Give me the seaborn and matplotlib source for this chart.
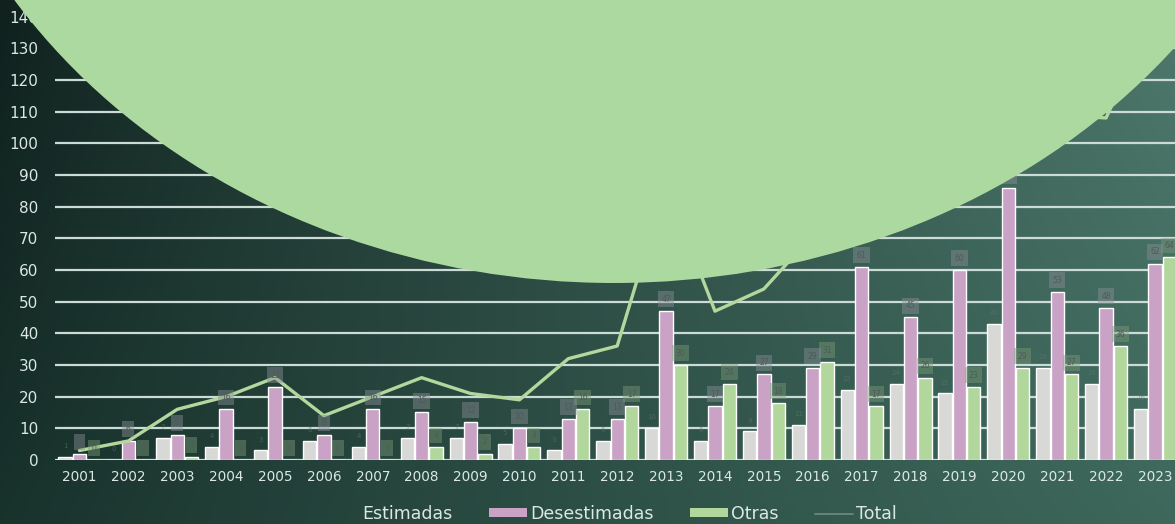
import numpy as np
import pandas as pd
import matplotlib
matplotlib.use("Agg")
import matplotlib.pyplot as plt
from matplotlib.patches import Ellipse, Patch
from matplotlib.lines import Line2D
import seaborn as sns

# --- data -------------------------------------------------------------
years = [str(y) for y in range(2001, 2024)]
estimadas = [1, 0, 7, 4, 3, 6, 4, 7, 7, 5, 3, 6, 10, 6, 9, 11, 22, 24, 21, 43, 29, 24, 16]
desestimadas = [2, 6, 8, 16, 23, 8, 16, 15, 12, 10, 13, 13, 47, 17, 27, 29, 61, 45, 60, 86, 53, 48, 62]
otras = [0, 0, 1, 0, 0, 0, 0, 4, 2, 4, 16, 17, 30, 24, 18, 31, 17, 26, 23, 29, 27, 36, 64]
series_names = ["Estimadas", "Desestimadas", "Otras"]
y_ticks = list(range(0, 150, 10))

total = [e + d + o for e, d, o in zip(estimadas, desestimadas, otras)]

df = pd.DataFrame({
    "Año": years * 3,
    "Serie": [series_names[0]] * len(years) + [series_names[1]] * len(years) + [series_names[2]] * len(years),
    "Valor": estimadas + desestimadas + otras,
})

# --- style ------------------------------------------------------------
sns.set_theme(style="white")
plt.rcParams["font.family"] = ["DejaVu Sans"]

col_est = "#d8d8d6"
col_des = "#c9a2c5"
col_otr = "#b2d79d"
col_line = "#b3d79c"
col_text = "#dbe8e3"
col_grid = "#cbdcd7"
col_circle = "#acd9a0"

W, H = 1175, 524
fig = plt.figure(figsize=(W / 100, H / 100), dpi=100)

# background gradient
bg = fig.add_axes([0, 0, 1, 1], zorder=-10)
xx = np.linspace(0, 1, 400)[None, :]
yy = np.linspace(0, 1, 200)[:, None]
tl = np.array([16, 33, 30]) / 255
bl = np.array([24, 50, 44]) / 255
tr = np.array([78, 120, 108]) / 255
br = np.array([62, 104, 92]) / 255
tx = xx ** 0.9
img = ((1 - tx)[..., None] * ((1 - yy)[..., None] * tl + yy[..., None] * bl)
       + tx[..., None] * ((1 - yy)[..., None] * tr + yy[..., None] * br))
bg.imshow(np.clip(img, 0, 1), aspect="auto", extent=[0, 1, 0, 1], origin="upper")
bg.set_axis_off()

# main chart
ax = fig.add_axes([55 / W, (H - 460) / H, (W - 55) / W, 460 / H])
ax.patch.set_alpha(0)

for t in y_ticks:
    ax.axhline(t, color=col_grid, lw=1.6, zorder=0)

sns.barplot(data=df, x="Año", y="Valor", hue="Serie", order=years,
            hue_order=series_names, palette=[col_est, col_des, col_otr],
            width=0.88, gap=0.07, saturation=1, ax=ax, legend=False, zorder=2)

xpos = np.arange(len(years))
sns.lineplot(x=xpos, y=total, color=col_line, lw=2.4, ax=ax, zorder=3, legend=False)

# small value tags above the bars
slot = 0.88 / 3
for i in range(len(years)):
    for k, vals in enumerate([estimadas, desestimadas, otras]):
        v = vals[i]
        xc = i + (k - 1) * slot
        if k == 0:
            ax.text(xc, v + 2.5, str(v), ha="center", va="bottom", fontsize=5,
                    color="#5f7470", alpha=0.6, zorder=4)
        else:
            face = "#8a8f96" if k == 1 else "#7c9a78"
            ax.text(xc, v + 2.3, str(v), ha="center", va="bottom", fontsize=5.5,
                    color="#4e5b58",
                    bbox=dict(boxstyle="square,pad=0.45", fc=face, ec="none", alpha=0.45),
                    zorder=4)

ax.set_xlim(-0.5, 22.41)
ax.set_ylim(0, 145.25)
ax.set_yticks(y_ticks)
ax.set_yticklabels([str(t) for t in y_ticks])
ax.tick_params(axis="y", length=0, pad=12, labelsize=11, labelcolor=col_text)
ax.tick_params(axis="x", length=0, pad=7, labelsize=9.8, labelcolor=col_text)
ax.set_xlabel("")
ax.set_ylabel("")
for s in ax.spines.values():
    s.set_visible(False)

# legend
handles = [
    Patch(facecolor="none", edgecolor="none"),
    Patch(facecolor=col_des, edgecolor="none"),
    Patch(facecolor=col_otr, edgecolor="none"),
    Line2D([0], [0], color="#6f8c84", lw=1.2),
]
leg = fig.legend(handles, ["Estimadas", "Desestimadas", "Otras", "Total"],
                 loc="center", bbox_to_anchor=(609 / W, (H - 514) / H), ncol=4,
                 frameon=False, fontsize=12.5, labelcolor=col_text,
                 handlelength=2.2, handleheight=0.45, handletextpad=0.15,
                 columnspacing=2.1)

# decorative oval over the top of the figure (pixel geometry)
cx, cy_top, a, b = 614, -331, 712, 614
fig.patches.append(Ellipse((cx / W, (H - cy_top) / H), 2 * a / W, 2 * b / H,
                           transform=fig.transFigure, facecolor=col_circle,
                           edgecolor="none", zorder=50))

fig.savefig("out.png", dpi=100)
